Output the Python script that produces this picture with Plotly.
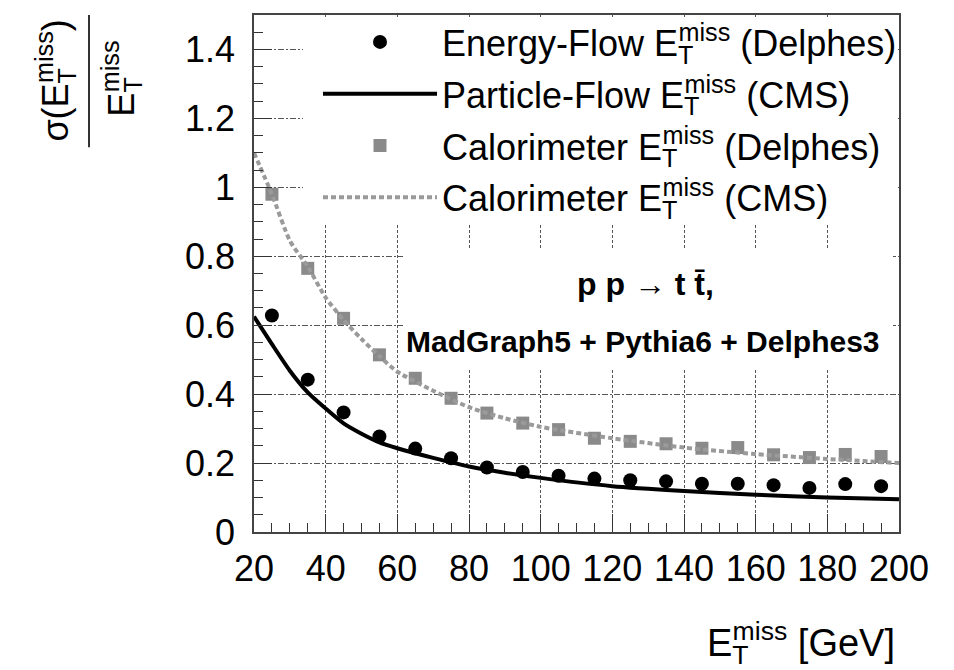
import plotly.graph_objects as go

# ---- data ----
bin_centers = [25, 35, 45, 55, 65, 75, 85, 95, 105, 115, 125, 135, 145, 155, 165, 175, 185, 195]
energy_flow = [0.628, 0.442, 0.347, 0.277, 0.242, 0.214, 0.187, 0.174, 0.163, 0.155,
               0.150, 0.147, 0.140, 0.140, 0.136, 0.128, 0.139, 0.133]
calo_delphes = [0.98, 0.765, 0.62, 0.514, 0.446, 0.388, 0.345, 0.316, 0.297, 0.272,
                0.263, 0.256, 0.243, 0.245, 0.224, 0.216, 0.225, 0.219]

curve_x = [20, 25, 30, 35, 40, 45, 50, 55, 60, 70, 80, 90, 100, 120, 140, 160, 180, 200]
particle_flow = [0.625, 0.545, 0.468, 0.405, 0.358, 0.315, 0.285, 0.26, 0.243, 0.215,
                 0.19, 0.172, 0.157, 0.133, 0.119, 0.108, 0.100, 0.095]
calo_cms = [1.10, 0.98, 0.845, 0.77, 0.68, 0.615, 0.56, 0.51, 0.465, 0.41,
            0.362, 0.33, 0.305, 0.272, 0.245, 0.226, 0.212, 0.20]

x_ticks = [20, 40, 60, 80, 100, 120, 140, 160, 180, 200]
y_ticks = [0, 0.2, 0.4, 0.6, 0.8, 1.0, 1.2, 1.4]
y_tick_text = ["0", "0.2", "0.4", "0.6", "0.8", "1", "1.2", "1.4"]

FONT = "Liberation Sans, Arial, Helvetica, sans-serif"


def met(sub_px):
    return ("E<sub><span style='letter-spacing:-%dpx'>T</span></sub><sup>miss</sup>" % sub_px)


fig = go.Figure()

fig.add_trace(go.Scatter(
    x=bin_centers, y=energy_flow, mode="markers", legendgroup="a",
    marker=dict(symbol="circle", size=14, color="black"),
    name="Energy-Flow " + met(15) + " (Delphes)"))
fig.add_trace(go.Scatter(
    x=curve_x, y=particle_flow, mode="lines", legendgroup="b",
    line=dict(color="black", width=4, shape="spline", smoothing=0.6),
    name="Particle-Flow " + met(15) + " (CMS)"))
fig.add_trace(go.Scatter(
    x=bin_centers, y=calo_delphes, mode="markers", legendgroup="c",
    marker=dict(symbol="square", size=13, color="#8a8a8a"),
    name="Calorimeter " + met(15) + " (Delphes)"))
fig.add_trace(go.Scatter(
    x=curve_x, y=calo_cms, mode="lines", legendgroup="d",
    line=dict(color="#9a9a9a", width=4, dash="5px,3px", shape="spline", smoothing=0.6),
    name="Calorimeter " + met(15) + " (CMS)"))

# page body has an 8px margin: figure origin sits at screen (8, 8)
OFF = 8
W, H = 954, 670
SX0, SX1, SY0, SY1 = 254, 899, 12, 532          # plot area in screen pixels
L, T = SX0 - OFF, SY0 - OFF
R, B = W - (SX1 - OFF), H - (SY1 - OFF)
PW, PH = SX1 - SX0, SY1 - SY0


def px_x(p):
    return (p - SX0) / PW


def px_y(p):
    return (SY1 - p) / PH


axis_common = dict(
    showline=True, linecolor="#444", linewidth=1.5, mirror=True,
    ticks="inside", ticklen=18, tickwidth=1.2, tickcolor="#333",
    showgrid=True, gridcolor="#555", gridwidth=1,
    zeroline=False,
    tickfont=dict(family=FONT, size=36, color="black"),
)

fig.update_xaxes(range=[20, 200], tickvals=x_ticks, griddash="3px,2px", ticklabelstandoff=4,
                 minor=dict(dtick=5, ticks="inside", ticklen=9, tickcolor="#333", showgrid=False),
                 **axis_common)
fig.update_yaxes(range=[0, 1.5], tickvals=y_ticks, ticktext=y_tick_text,
                 griddash="6px,2px,2px,2px", ticklabelstandoff=10,
                 minor=dict(dtick=0.05, ticks="inside", ticklen=9, tickcolor="#333", showgrid=False),
                 **axis_common)

# white panels behind legend and text (hide grid there; no data marks fall inside)
fig.add_shape(type="rect", xref="paper", yref="paper", layer="above",
              x0=px_x(303), x1=0.996, y0=px_y(222), y1=0.996,
              fillcolor="white", line=dict(width=0))
fig.add_shape(type="rect", xref="paper", yref="paper", layer="above",
              x0=px_x(403), x1=px_x(893), y0=px_y(367), y1=px_y(247),
              fillcolor="white", line=dict(width=0))

annotations = [
    dict(text="<b>p p \u2192 t t\u0304,</b>", x=px_x(645), y=px_y(283),
         font=dict(size=32, color="black")),
    dict(text="<b>MadGraph5 + Pythia6 + Delphes3</b>", x=px_x(643), y=px_y(340),
         font=dict(size=30, color="black")),
    dict(text=met(16) + " [GeV]", x=px_x(897), y=px_y(644), xanchor="right",
         font=dict(size=38, color="black")),
    dict(text="\u03c3(" + met(15) + ")", x=px_x(56), y=px_y(78), textangle=-90,
         font=dict(size=36, color="black")),
    dict(text=met(15), x=px_x(122), y=px_y(76), textangle=-90,
         font=dict(size=36, color="black")),
]
for a in annotations:
    a.setdefault("xanchor", "center")
    a.setdefault("yanchor", "middle")
    a["font"]["family"] = FONT
    fig.add_annotation(xref="paper", yref="paper", showarrow=False, **a)

fig.add_shape(type="line", xref="paper", yref="paper",
              x0=px_x(89), x1=px_x(89), y0=px_y(12), y1=px_y(145),
              line=dict(color="#333", width=2))

fig.update_layout(
    width=W, height=H,
    margin=dict(l=L, r=R, t=T, b=B),
    paper_bgcolor="white", plot_bgcolor="white",
    font=dict(family=FONT, color="black"),
    legend=dict(x=px_x(318), y=px_y(9), xanchor="left", yanchor="top",
                bgcolor="rgba(0,0,0,0)", font=dict(family=FONT, size=36, color="black"),
                itemwidth=114, traceorder="grouped", tracegroupgap=2),
    showlegend=True,
)

fig.write_html("out.html")
